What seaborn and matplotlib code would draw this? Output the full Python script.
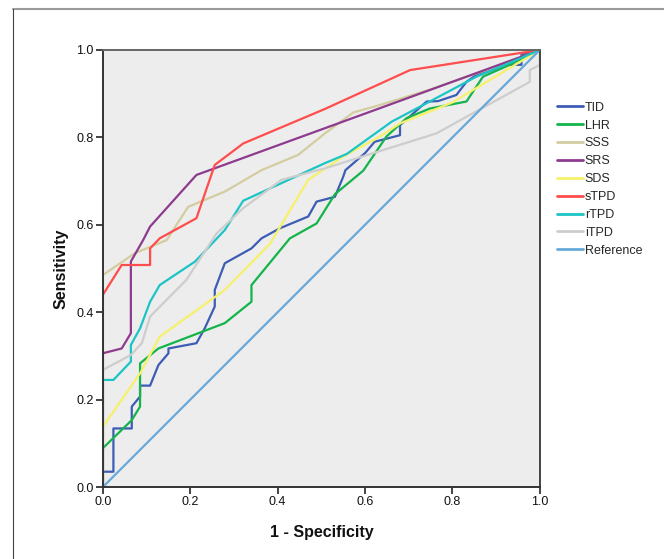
import pandas as pd
import matplotlib.pyplot as plt
import seaborn as sns
from matplotlib.lines import Line2D

# ROC curves (1 - specificity, sensitivity)
tid_x = [0, 0, 0.024, 0.024, 0.066, 0.066, 0.085, 0.085, 0.108, 0.127, 0.150, 0.150, 0.214, 0.233,
         0.256, 0.256, 0.279, 0.340, 0.363, 0.405, 0.470, 0.489, 0.531, 0.550, 0.555, 0.600, 0.622,
         0.680, 0.680, 0.741, 0.767, 0.809, 0.832, 0.855, 0.893, 0.920, 0.958, 0.958, 1.0]
tid_y = [0, 0.035, 0.035, 0.134, 0.134, 0.184, 0.207, 0.232, 0.232, 0.279, 0.306, 0.317, 0.329, 0.363,
         0.413, 0.451, 0.512, 0.546, 0.569, 0.592, 0.619, 0.653, 0.664, 0.710, 0.725, 0.764, 0.790,
         0.805, 0.828, 0.882, 0.883, 0.897, 0.927, 0.943, 0.954, 0.966, 0.966, 0.989, 1.0]

lhr_x = [0, 0, 0.066, 0.085, 0.085, 0.127, 0.279, 0.340, 0.340, 0.428, 0.489, 0.531, 0.596, 0.649,
         0.695, 0.748, 0.832, 0.870, 0.931, 1.0]
lhr_y = [0, 0.089, 0.153, 0.184, 0.283, 0.317, 0.375, 0.424, 0.462, 0.569, 0.603, 0.670, 0.724, 0.802,
         0.844, 0.866, 0.882, 0.939, 0.966, 1.0]

sss_x = [0, 0, 0.073, 0.146, 0.195, 0.279, 0.363, 0.447, 0.508, 0.573, 0.634, 0.75, 0.88, 1.0]
sss_y = [0, 0.485, 0.535, 0.565, 0.641, 0.676, 0.725, 0.760, 0.809, 0.857, 0.874, 0.91, 0.955, 1.0]

srs_x = [0, 0, 0.043, 0.064, 0.064, 0.092, 0.108, 0.214, 1.0]
srs_y = [0, 0.306, 0.317, 0.352, 0.516, 0.565, 0.596, 0.714, 1.0]

sds_x = [0, 0, 0.085, 0.130, 0.279, 0.382, 0.470, 0.550, 0.634, 0.680, 0.80, 0.90, 1.0]
sds_y = [0, 0.138, 0.26, 0.344, 0.451, 0.556, 0.703, 0.756, 0.802, 0.832, 0.88, 0.94, 1.0]

stpd_x = [0, 0, 0.043, 0.108, 0.108, 0.130, 0.214, 0.256, 0.321, 0.508, 0.703, 1.0]
stpd_y = [0, 0.44, 0.508, 0.508, 0.546, 0.569, 0.615, 0.737, 0.786, 0.865, 0.954, 1.0]

rtpd_x = [0, 0, 0.024, 0.064, 0.064, 0.085, 0.108, 0.130, 0.211, 0.279, 0.321, 0.508, 0.558, 0.661,
          0.748, 0.855, 0.920, 1.0]
rtpd_y = [0, 0.245, 0.245, 0.287, 0.325, 0.363, 0.424, 0.462, 0.516, 0.588, 0.655, 0.741, 0.762, 0.836,
          0.882, 0.939, 0.966, 1.0]

itpd_x = [0, 0, 0.064, 0.089, 0.108, 0.191, 0.260, 0.321, 0.409, 0.508, 0.619, 0.763, 0.908, 0.977,
          0.977, 1.0, 1.0]
itpd_y = [0, 0.268, 0.302, 0.329, 0.39, 0.474, 0.580, 0.638, 0.703, 0.729, 0.764, 0.809, 0.889, 0.927,
          0.954, 0.966, 1.0]

ref_x = [0, 1.0]
ref_y = [0, 1.0]

curves = {
    'TID': (tid_x, tid_y),
    'LHR': (lhr_x, lhr_y),
    'SSS': (sss_x, sss_y),
    'SRS': (srs_x, srs_y),
    'SDS': (sds_x, sds_y),
    'sTPD': (stpd_x, stpd_y),
    'rTPD': (rtpd_x, rtpd_y),
    'iTPD': (itpd_x, itpd_y),
    'Reference': (ref_x, ref_y),
}
palette = {
    'TID': '#3d5db5', 'LHR': '#14b44a', 'SSS': '#d3cda0', 'SRS': '#8e3b8f',
    'SDS': '#f6f16a', 'sTPD': '#ff4c4c', 'rTPD': '#1cc4c6', 'iTPD': '#cdcdcd',
    'Reference': '#67a9d8',
}

frames = []
for name, (xs, ys) in curves.items():
    frames.append(pd.DataFrame({'fpr': xs, 'tpr': ys, 'curve': name}))
df = pd.concat(frames, ignore_index=True)

sns.set_theme(style="white")
plt.rcParams['font.family'] = ['Liberation Sans', 'DejaVu Sans']

fig = plt.figure(figsize=(6.64, 5.59), dpi=100)
ax = fig.add_axes([0.155, 0.1288, 0.658, 0.7818])
ax.set_facecolor('#ededed')

sns.lineplot(data=df, x='fpr', y='tpr', hue='curve', palette=palette, sort=False,
             estimator=None, units='curve', linewidth=1.6, ax=ax)

ax.set_xlim(0, 1)
ax.set_ylim(0, 1)
ticks = [0.0, 0.2, 0.4, 0.6, 0.8, 1.0]
ax.set_xticks(ticks)
ax.set_yticks(ticks)
ax.set_xticklabels([f'{t:.1f}' for t in ticks])
ax.set_yticklabels([f'{t:.1f}' for t in ticks])
ax.tick_params(axis='both', direction='out', length=5, width=1.2, color='#222222',
               labelsize=9, labelcolor='#111111', pad=1.5, bottom=True, left=True)
for side in ['left', 'bottom', 'top', 'right']:
    ax.spines[side].set_color('#333333')
    ax.spines[side].set_linewidth(1.4)
ax.spines['top'].set_color('#666666')
ax.spines['right'].set_color('#444444')

ax.set_xlabel('1 - Specificity', fontsize=11.5, fontweight='bold', labelpad=12, color='#111111')
ax.set_ylabel('Sensitivity', fontsize=11.5, fontweight='bold', labelpad=6, color='#111111')

sns.move_legend(ax, loc='upper left', bbox_to_anchor=(1.028, 0.893), frameon=False, title=None,
                fontsize=9, handlelength=2.1, handletextpad=0.12, labelspacing=0.47,
                borderaxespad=0)
for line in ax.get_legend().get_lines():
    line.set_linewidth(2.0)

# outer frame lines of the exported figure
fig.add_artist(Line2D([13 / 664, 1], [1 - 9 / 559, 1 - 9 / 559], color='#9a9a9a', lw=1.5,
                      transform=fig.transFigure))
fig.add_artist(Line2D([13 / 664, 13 / 664], [0, 1 - 9 / 559], color='#444444', lw=0.8,
                      transform=fig.transFigure))

fig.savefig('out.png', dpi=100, facecolor='white')
